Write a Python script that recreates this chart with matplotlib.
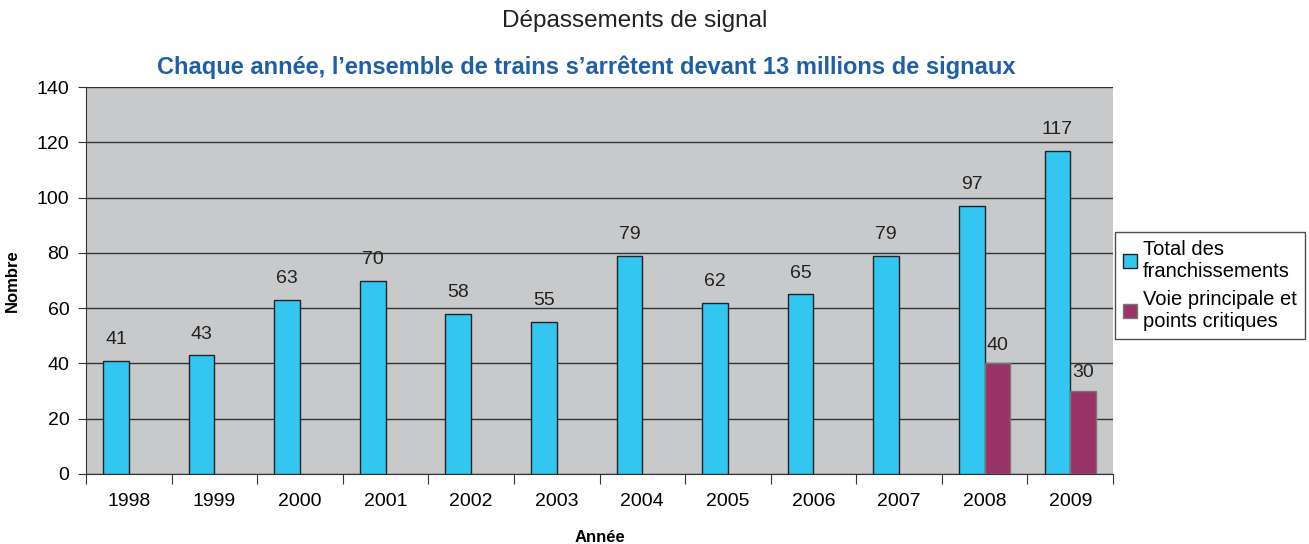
import numpy as np
import matplotlib.pyplot as plt

plt.rcParams['font.family'] = ['Liberation Sans', 'DejaVu Sans']

annees = ['1998', '1999', '2000', '2001', '2002', '2003',
          '2004', '2005', '2006', '2007', '2008', '2009']
total = [41, 43, 63, 70, 58, 55, 79, 62, 65, 79, 97, 117]
voie_principale = [None] * 10 + [40, 30]

cyan = '#33C6F0'
bordeaux = '#993366'

fig = plt.figure(figsize=(13.09, 5.44), dpi=100)
ax = fig.add_axes([86 / 1309, 1 - 474 / 544, (1113 - 86) / 1309, (474 - 87) / 544])
ax.set_facecolor('#C8C9CB')

x = np.arange(len(annees))
w = 0.3
b1 = ax.bar(x - 0.15, total, w, color=cyan, edgecolor='#222222', linewidth=1.0,
            label='Total des\nfranchissements', zorder=3)
vp_x = [xi + 0.15 for xi, v in zip(x, voie_principale) if v is not None]
vp_v = [v for v in voie_principale if v is not None]
b2 = ax.bar(vp_x, vp_v, w, color=bordeaux, edgecolor='#777777', linewidth=1.0,
            label='Voie principale et\npoints critiques', zorder=3)

for rect, v in zip(b1, total):
    ax.annotate(str(v), (rect.get_x() + rect.get_width() / 2, v),
                xytext=(0, 9), textcoords='offset points',
                ha='center', va='bottom', fontsize=14, color='#222222')
for rect, v in zip(b2, vp_v):
    ax.annotate(str(v), (rect.get_x() + rect.get_width() / 2, v),
                xytext=(0, 7), textcoords='offset points',
                ha='center', va='bottom', fontsize=14, color='#222222')

ax.set_ylim(0, 140)
ax.set_xlim(-0.5, len(annees) - 0.5)
ax.set_yticks(range(0, 141, 20))
ax.yaxis.grid(True, color='#333333', linewidth=1.0, zorder=0)
ax.set_axisbelow(True)

# ticks between groups, labels centred
ax.set_xticks(np.arange(-0.5, len(annees), 1.0))
ax.set_xticklabels([])
ax.set_xticks(x, minor=True)
ax.set_xticklabels(annees, minor=True)
ax.tick_params(axis='x', which='minor', length=0, pad=14, labelsize=14)
ax.tick_params(axis='x', which='major', length=7, direction='out', color='#333333')
ax.tick_params(axis='y', length=6, direction='out', labelsize=14, color='#333333', pad=6)

for s in ['top', 'right']:
    ax.spines[s].set_visible(False)
ax.spines['left'].set_color('#333333')
ax.spines['bottom'].set_color('#333333')

ax.set_xlabel('Année', fontsize=12, fontweight='bold', labelpad=14)
ax.set_ylabel('Nombre', fontsize=12, fontweight='bold', labelpad=12)

fig.text(635 / 1309, 1 - 21 / 544, 'Dépassements de signal', ha='center', va='center',
         fontsize=17.5, color='#222222')
fig.text(586 / 1309, 1 - 67 / 544,
         'Chaque année, l\u2019ensemble de trains s\u2019arrêtent devant 13 millions de signaux',
         ha='center', va='center', fontsize=17, fontweight='bold', color='#1F5FA8')

leg = fig.legend(handles=[b1, b2], loc='upper left',
                 bbox_to_anchor=(1115 / 1309, 1 - 232 / 544),
                 fontsize=14.5, frameon=True, fancybox=False, edgecolor='#222222',
                 handlelength=0.7, handleheight=0.7, handletextpad=0.3,
                 borderpad=0.4, labelspacing=0.45, borderaxespad=0)
leg.get_frame().set_linewidth(1.0)

fig.savefig('out.png', dpi=100)
